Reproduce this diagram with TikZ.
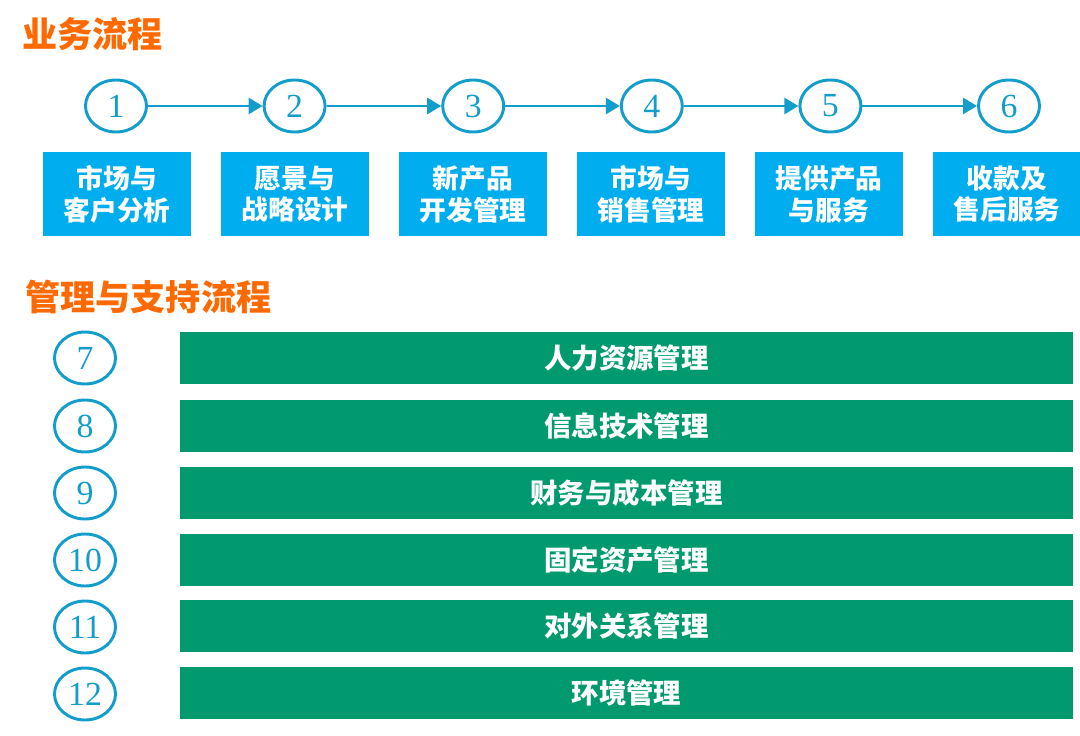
\documentclass[tikz,border=0pt]{standalone}
\usepackage{fontspec}
\setmainfont{Liberation Serif}
\newfontfamily\cjk{Noto Sans CJK SC}
\usetikzlibrary{shapes.geometric,arrows.meta}
\definecolor{flowblue}{HTML}{139DCB}
\definecolor{boxblue}{HTML}{00AEEF}
\definecolor{barteal}{HTML}{009A6E}
\definecolor{headorange}{HTML}{FF6A00}
\tikzset{
  stepnum/.style={ellipse, draw=flowblue, line width=2.1pt, text=flowblue,
    minimum width=1.525cm, minimum height=1.3cm, inner sep=0pt,
    font=\fontsize{24}{24}\selectfont},
  stagebox/.style={fill=boxblue, text=white, minimum width=3.7cm, minimum height=2.1cm,
    align=center, inner sep=0pt, font=\cjk\bfseries\fontsize{19}{22.5}\selectfont},
  supportbar/.style={fill=barteal, text=white, minimum width=22.325cm, minimum height=1.3cm,
    inner sep=0pt, font=\cjk\bfseries\fontsize{19.5}{22}\selectfont},
  heading/.style={anchor=west, text=headorange, inner sep=0pt,
    font=\cjk\bfseries\fontsize{25}{25}\selectfont},
  flow/.style={draw=flowblue, line width=2pt, -{Triangle[length=0.35cm,width=0.4cm]}}
}
\begin{document}
\begin{tikzpicture}[x=0.025cm,y=-0.025cm]
    \useasboundingbox (0,0) rectangle (1080,736);

    % business flow
    \node[heading] (bizhead) at (22,34) {业务流程};

    \node[stepnum] (s1) at (116,106)   {1};
    \node[stepnum] (s2) at (294.6,106) {2};
    \node[stepnum] (s3) at (473.2,106) {3};
    \node[stepnum] (s4) at (651.8,106) {4};
    \node[stepnum] (s5) at (830.4,106) {5};
    \node[stepnum] (s6) at (1009,106)  {6};

    \draw[flow] (s1) -- (s2);
    \draw[flow] (s2) -- (s3);
    \draw[flow] (s3) -- (s4);
    \draw[flow] (s4) -- (s5);
    \draw[flow] (s5) -- (s6);

    \node[stagebox] (b1) at (117,194)   {市场与\\客户分析};
    \node[stagebox] (b2) at (295,194)   {愿景与\\战略设计};
    \node[stagebox] (b3) at (473,194)   {新产品\\开发管理};
    \node[stagebox] (b4) at (651,194)   {市场与\\销售管理};
    \node[stagebox] (b5) at (829,194)   {提供产品\\与服务};
    \node[stagebox] (b6) at (1007,194)  {收款及\\售后服务};

    % support flow
    \node[heading] (suphead) at (25,297) {管理与支持流程};

    \node[stepnum] (s7)  at (85,358)   {7};
    \node[stepnum] (s8)  at (85,426)   {8};
    \node[stepnum] (s9)  at (85,493)   {9};
    \node[stepnum] (s10) at (85,560)   {10};
    \node[stepnum] (s11) at (85,627)   {11};
    \node[stepnum] (s12) at (85,694)   {12};

    \node[supportbar] (hr)  at (626.5,358) {人力资源管理};
    \node[supportbar] (it)  at (626.5,426) {信息技术管理};
    \node[supportbar] (fin) at (626.5,493) {财务与成本管理};
    \node[supportbar] (ast) at (626.5,560) {固定资产管理};
    \node[supportbar] (ext) at (626.5,626) {对外关系管理};
    \node[supportbar] (env) at (626.5,693) {环境管理};
\end{tikzpicture}
\end{document}
